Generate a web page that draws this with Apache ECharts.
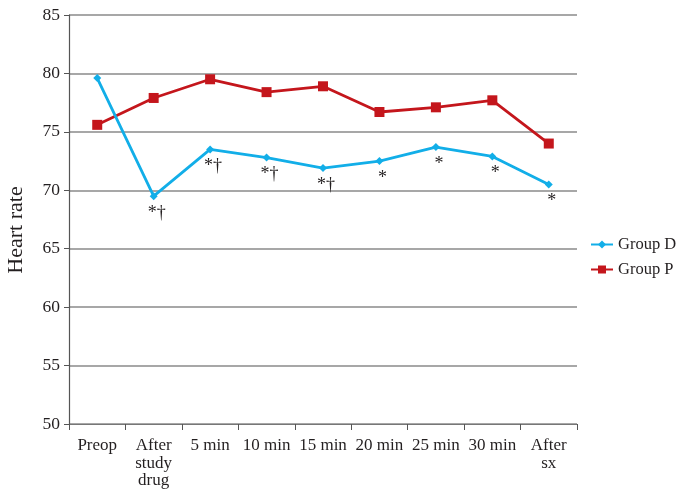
<!DOCTYPE html>
<html><head><meta charset="utf-8">
<script src="https://cdn.jsdelivr.net/npm/echarts@6/dist/echarts.min.js"></script>
<style>html,body{margin:0;padding:0;background:#fff}#c{width:678px;height:502px}</style>
</head><body><div id="c"></div>
<script>
const categories = ['Preop', 'After\nstudy\ndrug', '5 min', '10 min', '15 min', '20 min', '25 min', '30 min', 'After\nsx'];
const groupD = [79.6, 69.5, 73.5, 72.8, 71.9, 72.5, 73.7, 72.9, 70.5];
const groupP = [75.6, 77.9, 79.5, 78.4, 78.9, 76.7, 77.1, 77.7, 74.0];
const annotD = ['', '*\u2020', '*\u2020', '*\u2020', '*\u2020', '*', '*', '*', '*'];
const yTicks = [50, 55, 60, 65, 70, 75, 80, 85];

const FONT = '"Liberation Serif", "DejaVu Serif", serif';
const TXT = '#231f20';
const chart = echarts.init(document.getElementById('c'));
chart.setOption({
  animation: false,
  textStyle: { fontFamily: FONT, color: TXT },
  grid: { left: 69, right: 101, top: 15, bottom: 78 },
  legend: {
    orient: 'vertical', left: 585, top: 231,
    itemWidth: 22, itemHeight: 10, itemGap: 8,
    textStyle: { fontFamily: FONT, fontSize: 16.5, color: TXT },
    data: ['Group D', 'Group P']
  },
  xAxis: {
    type: 'category', data: categories, boundaryGap: true,
    axisLine: { lineStyle: { color: '#777', width: 1.2 } },
    axisTick: { show: true, length: 6, lineStyle: { color: '#555' } },
    axisLabel: { fontFamily: FONT, fontSize: 17, color: TXT, lineHeight: 17.5, margin: 13, interval: 0 }
  },
  yAxis: {
    type: 'value', min: yTicks[0], max: yTicks[yTicks.length - 1], interval: 5,
    axisLine: { show: true, lineStyle: { color: '#555', width: 1.2 } },
    axisTick: { show: true, length: 5, lineStyle: { color: '#555' } },
    splitLine: { lineStyle: { color: '#8a8a8a', width: 1.5 } },
    axisLabel: { fontFamily: FONT, fontSize: 17.5, color: TXT, margin: 9 }
  },
  graphic: [{
    type: 'text', rotation: Math.PI / 2,
    style: { text: 'Heart rate', font: '22px ' + FONT, fill: TXT, textAlign: 'center', textVerticalAlign: 'middle' },
    x: 16, y: 230
  }],
  series: [
    {
      name: 'Group D', type: 'line', data: groupD.map((v, i) => ({
        value: v,
        label: { show: annotD[i] !== '', formatter: annotD[i], position: 'bottom', distance: 4, offset: [3, 0],
          fontFamily: FONT, fontSize: 18, color: TXT }
      })),
      symbol: 'diamond', symbolSize: 8,
      itemStyle: { color: '#12aee8' }, lineStyle: { color: '#12aee8', width: 2.8 }, z: 3
    },
    {
      name: 'Group P', type: 'line', data: groupP,
      symbol: 'rect', symbolSize: 10,
      itemStyle: { color: '#c4161c' }, lineStyle: { color: '#c4161c', width: 2.8 }, z: 2
    }
  ]
});
</script></body></html>
